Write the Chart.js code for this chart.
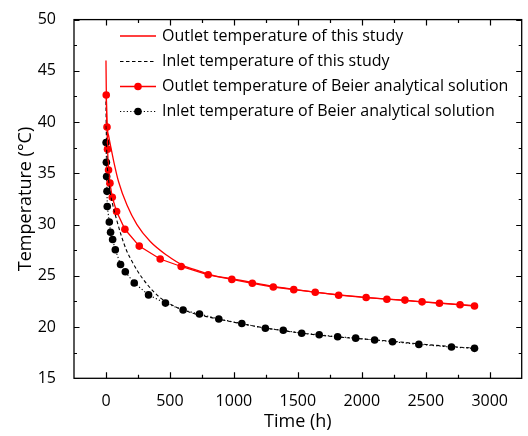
<!DOCTYPE html>
<html>
<head>
<meta charset="utf-8">
<script src="https://cdn.jsdelivr.net/npm/chart.js@4.4.1/dist/chart.umd.min.js"></script>
<style>
  body { margin: 0; background: #fff; }
  canvas { display: block; }
</style>
</head>
<body>
<canvas id="grafico" width="528" height="436"></canvas>
<script>
// datos
const outletStudyTime = [0, 2, 5, 10, 20, 34, 60, 98, 164, 242, 346, 476, 606, 720, 850, 1000, 1150, 1300, 1500, 1750, 2000, 2250, 2500, 2750, 2880]
const outletStudyTemp = [46.0, 43.5, 41.0, 39.4, 38.7, 37.8, 36.2, 34.2, 31.9, 30.0, 28.35, 27.0, 26.0, 25.5, 25.0, 24.68, 24.33, 24.0, 23.63, 23.23, 22.93, 22.67, 22.44, 22.21, 22.09]

const inletStudyTime = [0, 2, 5, 10, 20, 35, 55, 85, 120, 160, 200, 250, 320, 420, 540, 680, 850, 1050, 1250, 1500, 1750, 2000, 2250, 2500, 2750, 2880]
const inletStudyTemp = [42.0, 39.5, 37.5, 35.8, 34.4, 33.0, 31.8, 30.4, 28.9, 27.5, 26.5, 25.4, 24.2, 22.9, 22.0, 21.35, 20.85, 20.35, 19.9, 19.45, 19.1, 18.85, 18.6, 18.3, 18.05, 17.95]

const beierOutletTime = [2, 8, 12, 20, 31, 49, 83, 148, 260, 424, 588, 799, 984, 1144, 1308, 1468, 1636, 1819, 2034, 2196, 2337, 2471, 2607, 2768, 2881]
const beierOutletTemp = [42.64, 39.52, 37.36, 35.33, 34.04, 32.66, 31.27, 29.54, 27.9, 26.64, 25.91, 25.1, 24.65, 24.27, 23.91, 23.65, 23.4, 23.11, 22.88, 22.72, 22.63, 22.46, 22.33, 22.17, 22.05]

const beierInletTime = [1, 3, 5, 8, 10, 26, 36, 52, 73, 114, 151, 221, 333, 465, 603, 731, 882, 1062, 1246, 1386, 1530, 1667, 1811, 1952, 2100, 2240, 2446, 2701, 2881]
const beierInletTemp = [38.0, 36.07, 34.69, 33.24, 31.76, 30.25, 29.25, 28.54, 27.55, 26.1, 25.39, 24.3, 23.14, 22.34, 21.66, 21.27, 20.79, 20.34, 19.88, 19.69, 19.4, 19.25, 19.05, 18.92, 18.73, 18.57, 18.31, 18.05, 17.92]

const xTicks = [0, 500, 1000, 1500, 2000, 2500, 3000]
const yTicks = [15, 20, 25, 30, 35, 40, 45, 50]

const leyendas = [
    'Outlet temperature of this study',
    'Inlet temperature of this study',
    'Outlet temperature of Beier analytical solution',
    'Inlet temperature of Beier analytical solution'
]

const fuente = '"Open Sans", "DejaVu Sans", sans-serif'

const aPuntos = (xs, ys) => xs.map((x, i) => ({ x, y: ys[i] }))

// marcas de los ejes hacia adentro, en los cuatro lados
const marcasEjes = {
    id: 'marcasEjes',
    afterDraw(chart) {
        const { ctx, chartArea: a, scales } = chart
        const sx = scales.x
        const sy = scales.y
        ctx.save()
        ctx.strokeStyle = '#000'
        ctx.lineWidth = 1.2
        const medios = (arr) => arr.slice(0, -1).map((v, i) => (v + arr[i + 1]) / 2)
        const marcaX = (v, largo) => {
            const px = Math.round(sx.getPixelForValue(v)) + 0.5
            ctx.beginPath()
            ctx.moveTo(px, a.bottom); ctx.lineTo(px, a.bottom - largo)
            ctx.moveTo(px, a.top); ctx.lineTo(px, a.top + largo)
            ctx.stroke()
        }
        const marcaY = (v, largo) => {
            const py = Math.round(sy.getPixelForValue(v)) + 0.5
            ctx.beginPath()
            ctx.moveTo(a.left, py); ctx.lineTo(a.left + largo, py)
            ctx.moveTo(a.right, py); ctx.lineTo(a.right - largo, py)
            ctx.stroke()
        }
        xTicks.forEach(v => marcaX(v, 6))
        medios(xTicks).forEach(v => marcaX(v, 3.5))
        yTicks.forEach(v => marcaY(v, 5.5))
        medios(yTicks).forEach(v => marcaY(v, 3))
        ctx.lineWidth = 1.3
        ctx.strokeRect(a.left, a.top, a.right - a.left, a.bottom - a.top)
        ctx.restore()
    }
}

// leyenda dentro del area del grafico
const leyendaInterna = {
    id: 'leyendaInterna',
    afterDraw(chart) {
        const { ctx } = chart
        const x0 = 120
        const x1 = 156
        const ys = [36, 61.5, 86.5, 111.5]
        ctx.save()
        chart.data.datasets.forEach((ds, i) => {
            const y = ys[i]
            ctx.strokeStyle = ds.borderColor
            ctx.lineWidth = ds.borderWidth
            ctx.setLineDash(ds.borderDash || [])
            ctx.beginPath()
            ctx.moveTo(x0, y); ctx.lineTo(x1, y)
            ctx.stroke()
            ctx.setLineDash([])
            if (ds.pointRadius > 0) {
                ctx.fillStyle = ds.pointBackgroundColor
                ctx.beginPath()
                ctx.arc((x0 + x1) / 2, y, ds.pointRadius, 0, Math.PI * 2)
                ctx.fill()
            }
            ctx.fillStyle = '#000'
            ctx.font = '16px ' + fuente
            ctx.textBaseline = 'middle'
            ctx.fillText(leyendas[i], 162, y)
        })
        ctx.restore()
    }
}

new Chart(document.getElementById('grafico'), {
    type: 'line',
    data: {
        datasets: [
            {
                data: aPuntos(outletStudyTime, outletStudyTemp),
                borderColor: '#ff0000',
                borderWidth: 1.3,
                pointRadius: 0,
                cubicInterpolationMode: 'monotone'
            },
            {
                data: aPuntos(inletStudyTime, inletStudyTemp),
                borderColor: '#000000',
                borderWidth: 1.1,
                borderDash: [3.5, 2.5],
                pointRadius: 0,
                cubicInterpolationMode: 'monotone'
            },
            {
                data: aPuntos(beierOutletTime, beierOutletTemp),
                borderColor: '#ff0000',
                borderWidth: 1.3,
                pointRadius: 3.8,
                pointBackgroundColor: '#ff0000',
                pointBorderWidth: 0,
                tension: 0
            },
            {
                data: aPuntos(beierInletTime, beierInletTemp),
                borderColor: '#000000',
                borderWidth: 1.1,
                borderDash: [1.2, 2.2],
                pointRadius: 3.8,
                pointBackgroundColor: '#000000',
                pointBorderWidth: 0,
                tension: 0
            }
        ]
    },
    options: {
        responsive: false,
        animation: false,
        devicePixelRatio: 1,
        layout: { padding: { left: 15, top: 15.7, right: 6.3, bottom: 3 } },
        plugins: {
            legend: { display: false },
            tooltip: { enabled: false }
        },
        scales: {
            x: {
                type: 'linear',
                min: -250,
                max: 3250,
                afterBuildTicks: (s) => { s.ticks = xTicks.map(v => ({ value: v })) },
                afterFit: (s) => { s.height = 436 - 3 - 378.3 },
                grid: { display: false },
                border: { display: false },
                ticks: {
                    color: '#000',
                    padding: 6,
                    maxRotation: 0,
                    callback: (v) => String(v),
                    font: { family: fuente, size: 16 }
                },
                title: {
                    display: true,
                    text: 'Time (h)',
                    color: '#000',
                    padding: 0,
                    font: { family: fuente, size: 18 }
                }
            },
            y: {
                type: 'linear',
                min: 15,
                max: 50,
                afterBuildTicks: (s) => { s.ticks = yTicks.map(v => ({ value: v })) },
                afterFit: (s) => { s.width = 74 - 15 },
                grid: { display: false },
                border: { display: false },
                ticks: {
                    color: '#000',
                    padding: 10,
                    callback: (v) => String(v),
                    font: { family: fuente, size: 16 }
                },
                title: {
                    display: true,
                    text: 'Temperature (°C)',
                    color: '#000',
                    padding: 0,
                    font: { family: fuente, size: 18 }
                }
            }
        }
    },
    plugins: [marcasEjes, leyendaInterna]
})
</script>
</body>
</html>
